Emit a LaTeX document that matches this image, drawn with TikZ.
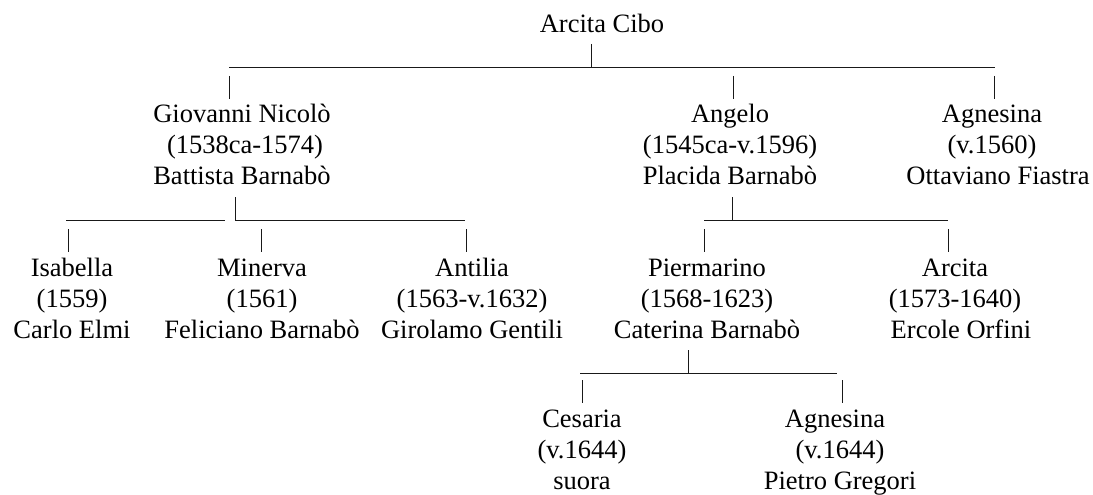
\documentclass[tikz,border=0pt]{standalone}
\usepackage{fontspec}
\setmainfont{Liberation Serif}
\begin{document}
\begin{tikzpicture}[x=1pt,y=-1pt,
  person/.style={anchor=north, align=center, inner sep=0pt, font=\fontsize{26.5}{30.7}\selectfont},
  link/.style={line width=0.9pt, black!90, line cap=butt}]
\useasboundingbox (0,0) rectangle (1093,495);
% persons (top of node = first baseline - 21.5)
\node[person] (arcita)     at (602,10.5) {\strut Arcita Cibo};
\node[person] (giovanni)   at (242,101)  {\strut Giovanni Nicolò\\\hspace*{6pt}(1538ca-1574)\\Battista Barnabò};
\node[person] (angelo)     at (730,101)  {\strut Angelo\\(1545ca-v.1596)\\Placida Barnabò};
\node[person] (agnesina)   at (992,101)  {\strut Agnesina\\(v.1560)\\\hspace*{12pt}Ottaviano Fiastra};
\node[person] (isabella)   at (72,255)   {\strut Isabella\\(1559)\\Carlo Elmi};
\node[person] (minerva)    at (262,255)  {\strut Minerva\\(1561)\\Feliciano Barnabò};
\node[person] (antilia)    at (472,255)  {\strut Antilia\\(1563-v.1632)\\Girolamo Gentili};
\node[person] (piermarino) at (707,255)  {\strut Piermarino\\(1568-1623)\\Caterina Barnabò};
\node[person] (arcitab)    at (955,255)  {\strut Arcita\\(1573-1640)\hspace*{6pt}\\\hspace*{12pt}Ercole Orfini};
\node[person] (cesaria)    at (582,406)  {\strut Cesaria\\(v.1644)\\suora};
\node[person] (agnesinab)  at (840,406)  {\strut Agnesina\hspace*{10pt}\\(v.1644)\\Pietro Gregori};
% generation 1
\coordinate (p1t) at (591,44);  \coordinate (p1b) at (591,67);
\coordinate (b1l) at (229,67);  \coordinate (b1r) at (995,67);
\coordinate (d1a) at (229,76);  \coordinate (e1a) at (229,99);
\coordinate (d1b) at (733,76);  \coordinate (e1b) at (733,99);
\coordinate (d1c) at (994,76);  \coordinate (e1c) at (994,99);
\draw[link] (p1t) -- (p1b);
\draw[link] (b1l) -- (b1r);
\draw[link] (d1a) -- (e1a);
\draw[link] (d1b) -- (e1b);
\draw[link] (d1c) -- (e1c);
% Giovanni's children
\coordinate (p2t) at (235,197); \coordinate (p2b) at (235,220);
\coordinate (b2l) at (66,220);  \coordinate (b2m) at (225,220); \coordinate (b2r) at (465,220);
\coordinate (d2a) at (68,229);  \coordinate (e2a) at (68,252);
\coordinate (d2b) at (261,229); \coordinate (e2b) at (261,252);
\coordinate (d2c) at (466,229); \coordinate (e2c) at (466,252);
\draw[link] (p2t) -- (p2b) -- (b2r);
\draw[link] (b2l) -- (b2m);
\draw[link] (d2a) -- (e2a);
\draw[link] (d2b) -- (e2b);
\draw[link] (d2c) -- (e2c);
% Angelo's children
\coordinate (p3t) at (732,197); \coordinate (p3b) at (732,220);
\coordinate (b3l) at (704,220); \coordinate (b3r) at (948,220);
\coordinate (d3a) at (704,229); \coordinate (e3a) at (704,252);
\coordinate (d3b) at (948,229); \coordinate (e3b) at (948,252);
\draw[link] (p3t) -- (p3b);
\draw[link] (b3l) -- (b3r);
\draw[link] (d3a) -- (e3a);
\draw[link] (d3b) -- (e3b);
% Piermarino's children
\coordinate (p4t) at (688,350); \coordinate (p4b) at (688,373);
\coordinate (b4l) at (580,373); \coordinate (b4r) at (837,373);
\coordinate (d4a) at (582,380); \coordinate (e4a) at (582,403);
\coordinate (d4b) at (842,380); \coordinate (e4b) at (842,403);
\draw[link] (p4t) -- (p4b);
\draw[link] (b4l) -- (b4r);
\draw[link] (d4a) -- (e4a);
\draw[link] (d4b) -- (e4b);
\end{tikzpicture}
\end{document}
